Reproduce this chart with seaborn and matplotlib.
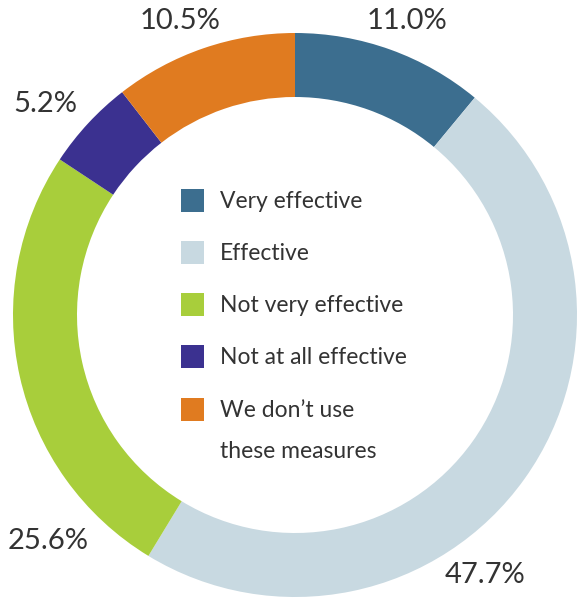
import matplotlib
matplotlib.use('Agg')
import matplotlib.pyplot as plt
from matplotlib.patches import Rectangle
import seaborn as sns

categories = ['Very effective', 'Effective', 'Not very effective',
              'Not at all effective', "We don\u2019t use\nthese measures"]
values = [11.0, 47.7, 25.6, 5.2, 10.5]
value_labels = ['11.0%', '47.7%', '25.6%', '5.2%', '10.5%']
colors = ['#3c6e8f', '#c8d9e1', '#a8ce3b', '#3b3190', '#e07b20']

sns.set_theme(style='white')
plt.rcParams['font.family'] = ['Lato', 'DejaVu Sans']

W, H = 577, 598
fig = plt.figure(figsize=(W / 100, H / 100), dpi=100)
ax = fig.add_axes([0, 0, 1, 1])

# pixel coords measured from top; flip for the data axis
cx, cy, r = 295, 315, 282
ax.pie(values, colors=colors, startangle=90, counterclock=False,
       center=(cx, H - cy), radius=r, frame=True,
       wedgeprops=dict(width=64, linewidth=0))
ax.set_xlim(0, W)
ax.set_ylim(0, H)
ax.set_aspect('equal')
ax.axis('off')

txt = '#333333'
# percentage labels (pixel positions)
label_pos = [(407, 21), (485, 575), (48, 541), (45, 104), (180, 21)]
for (x, y), t in zip(label_pos, value_labels):
    ax.text(x, H - y, t, ha='center', va='center', fontsize=21,
            fontweight='normal', color=txt)

# legend in the hole
rows_y = [201, 253, 305, 357, 410]
for y, c, lab in zip(rows_y, colors, categories):
    ax.add_patch(Rectangle((181, H - y - 11), 23, 23, color=c, lw=0))
    ax.text(220, H - y + 10, lab, ha='left', va='top', fontsize=16.5,
            fontweight='normal', color=txt, linespacing=2.15)

fig.savefig('out.png', dpi=100)
